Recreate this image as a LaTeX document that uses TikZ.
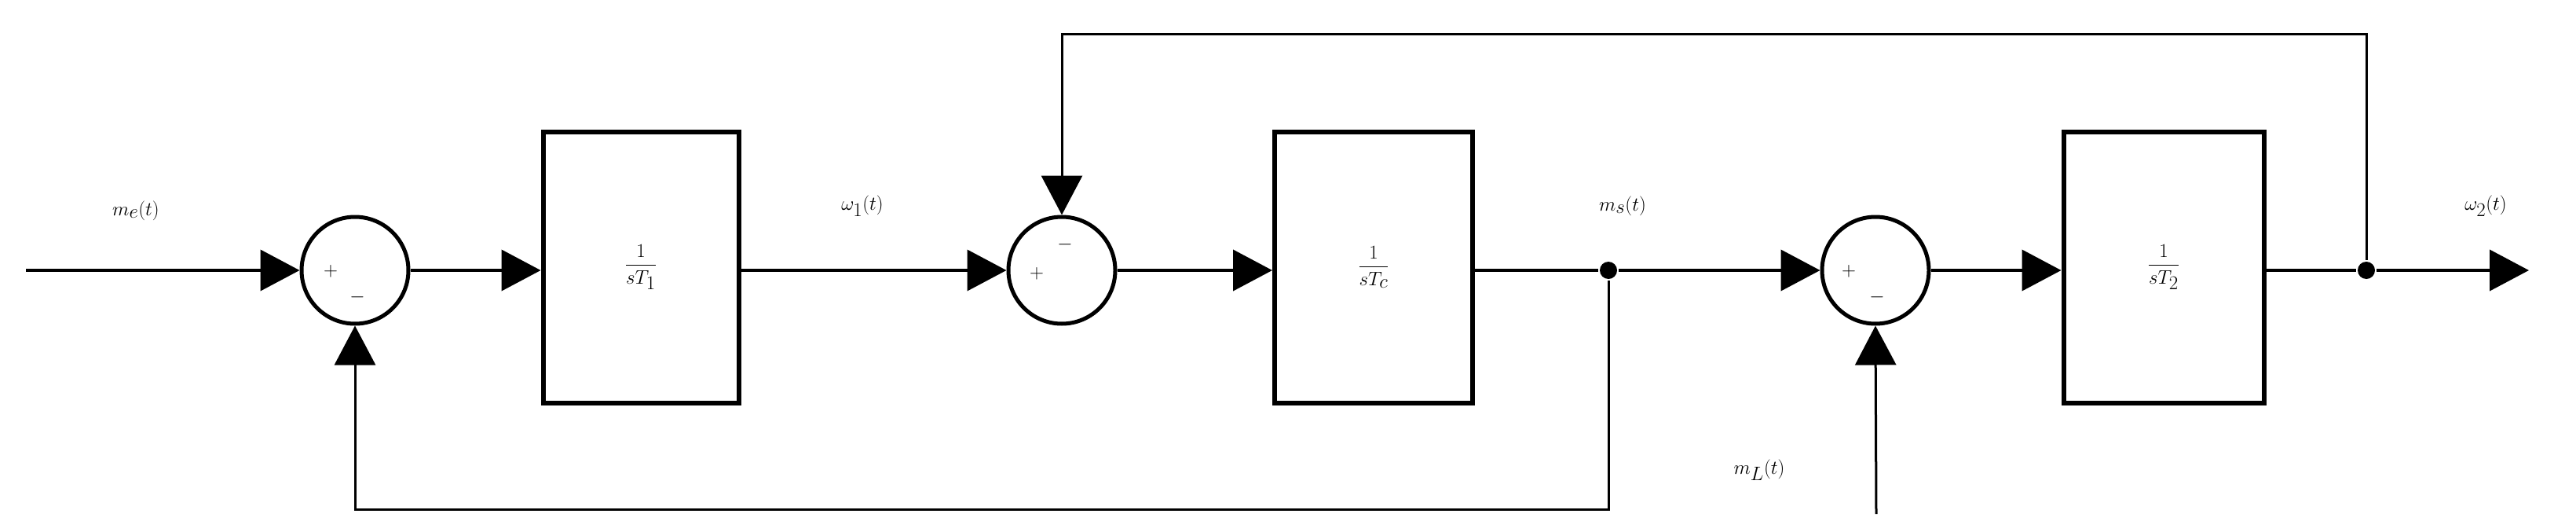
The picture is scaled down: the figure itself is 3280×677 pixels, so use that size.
\documentclass[tikz,border=0pt]{standalone}
\usepackage{amsmath}
\usetikzlibrary{arrows.meta}
\begin{document}
\begin{tikzpicture}[x=1pt,y=-1pt,
  line width=4pt,
  arr/.style={-{Triangle[length=50pt,width=52pt]}},
  sum/.style={draw,circle,line width=5pt,minimum size=136pt,inner sep=0pt},
  blk/.style={draw,line width=6pt,minimum height=345pt,inner sep=0pt,font=\fontsize{64}{76}\selectfont},
  lab/.style={font=\fontsize{62}{74}\selectfont},
  sgn/.style={font=\fontsize{30}{36}\selectfont,inner sep=0pt},
  dot/.style={circle,fill,inner sep=0pt,minimum size=22pt}]
\useasboundingbox (0,0) rectangle (3280,677);
\node[sum] (s1) at (452,344) {};
\node[sum] (s2) at (1352,344) {};
\node[sum] (s3) at (2388,344) {};
\node[blk,minimum width=249pt] (b1) at (816,340) {$\dfrac{1}{sT_1}$};
\node[blk,minimum width=252pt] (bc) at (1749,340) {$\dfrac{1}{sT_c}$};
\node[blk,minimum width=255pt] (b2) at (2755,340) {$\dfrac{1}{sT_2}$};
\node[dot] (ms) at (2048,344) {};
\node[dot] (od) at (3013,344) {};
\coordinate (in) at (33,344);
\coordinate (out) at (3220,344);
\coordinate (mlin) at (2389,654);
\node[sgn] (p1) at (421,345) {$+$};
\node[sgn] (m1) at (455,378) {$-$};
\node[sgn] (p2) at (1320,348) {$+$};
\node[sgn] (m2) at (1356,311) {$-$};
\node[sgn] (p3) at (2354,345) {$+$};
\node[sgn] (m3) at (2390,378) {$-$};
\node[lab] (lme) at (173,268) {$m_e(t)$};
\node[lab] (lw1) at (1098,262) {$\omega_1(t)$};
\node[lab] (lms) at (2066,262) {$m_s(t)$};
\node[lab] (lw2) at (3165,262) {$\omega_2(t)$};
\node[lab] (lml) at (2240,598) {$m_L(t)$};
\draw[arr] (in) -- (s1.west);
\draw[arr] (s1.east) -- (b1.west |- s1.east);
\draw[arr] (b1.east |- s2.west) -- (s2.west);
\draw[arr] (s2.east) -- (bc.west |- s2.east);
\draw (bc.east |- ms) -- (ms);
\draw[arr] (ms) -- (s3.west);
\draw[arr] (s3.east) -- (b2.west |- s3.east);
\draw (b2.east |- od) -- (od);
\draw[arr] (od) -- (out);
\draw[line width=3pt,arr] (od) |- (1352,44) -- (s2.north);
\draw[line width=3pt,arr] (ms) |- (452,648) -- (s1.south);
\draw[line width=3pt,arr] (mlin) -- (s3.south);
\end{tikzpicture}
\end{document}
